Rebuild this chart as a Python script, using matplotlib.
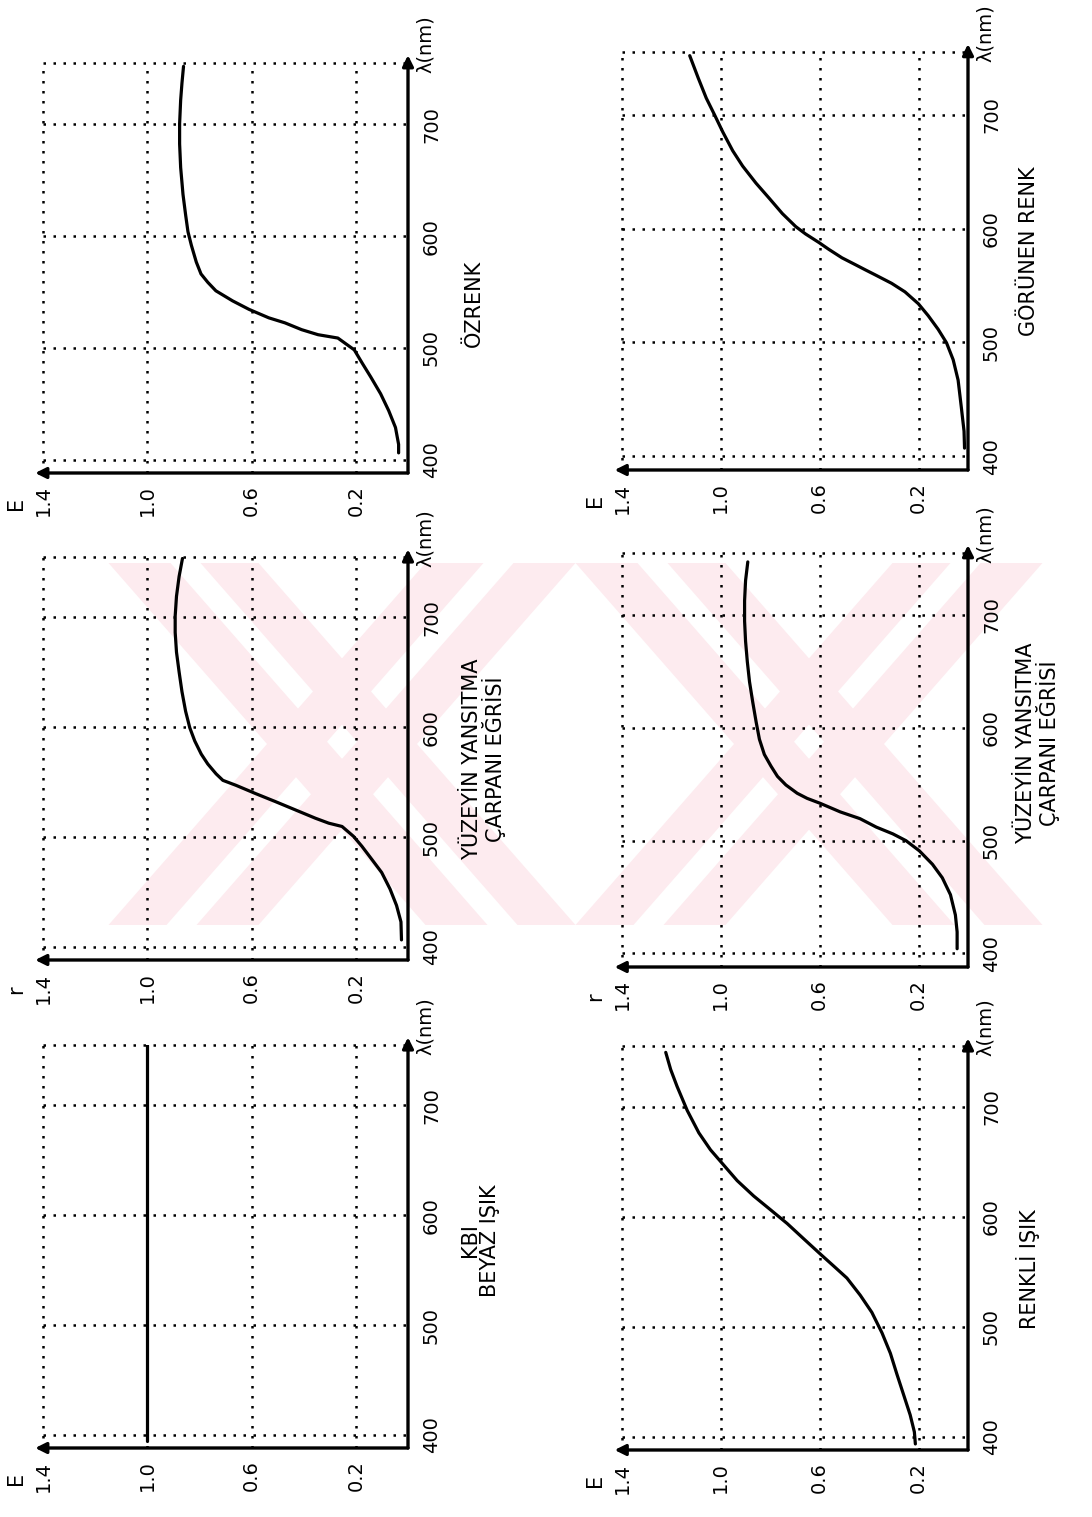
import matplotlib
matplotlib.use("Agg")
import matplotlib.pyplot as plt
from matplotlib.patches import Polygon

# wavelength (nm) / value pairs
wl_ozrenk = [406, 413.6, 428.7, 443.8, 458.9, 474, 486.1, 498.2, 508.8, 511.8, 516.3, 522.4,
             526.9, 534.5, 542.1, 551.1, 558.7, 566.2, 576.8, 591.9, 604, 619.1, 637.3, 661.4,
             682.6, 700.7, 721.8, 737, 752]
e_ozrenk = [0.036, 0.036, 0.048, 0.074, 0.105, 0.143, 0.175, 0.206, 0.269, 0.345, 0.408, 0.472,
            0.534, 0.610, 0.673, 0.737, 0.768, 0.794, 0.812, 0.831, 0.844, 0.853, 0.863, 0.872,
            0.876, 0.876, 0.872, 0.867, 0.861]

wl_yuzey1 = [406.3, 422.7, 437.7, 452.7, 467.7, 479.7, 491.6, 500.6, 509.6, 512.6, 517.1, 524.6,
             532.1, 539.5, 547.1, 551.6, 557.5, 566.5, 575.5, 587.5, 599.5, 614.5, 632.4, 650.4,
             668.4, 686.3, 701.3, 719.2, 737.2, 753.7]
r_yuzey1 = [0.025, 0.027, 0.044, 0.069, 0.101, 0.139, 0.177, 0.209, 0.253, 0.304, 0.355, 0.431,
            0.507, 0.584, 0.660, 0.710, 0.736, 0.768, 0.793, 0.818, 0.837, 0.853, 0.867, 0.878,
            0.888, 0.893, 0.893, 0.888, 0.878, 0.865]

wl_beyaz = [394, 755]
e_beyaz = [1.0, 1.0]

wl_gorunen = [407.2, 422.1, 443, 466.9, 484.8, 499.7, 511.6, 523.5, 534, 544.4, 551.9, 559.4,
              563.8, 568.3, 574.3, 581.7, 587.7, 595.2, 601.7, 613.1, 626.5, 639.9, 654.9, 668.3,
              684.7, 699.6, 714.5, 732.4, 751.8]
e_gorunen = [0.014, 0.016, 0.027, 0.040, 0.060, 0.087, 0.121, 0.161, 0.201, 0.255, 0.309, 0.376,
             0.416, 0.456, 0.510, 0.563, 0.603, 0.657, 0.697, 0.751, 0.804, 0.858, 0.912, 0.952,
             0.992, 1.025, 1.059, 1.092, 1.126]

wl_yuzey2 = [404.2, 419.1, 434.1, 452.1, 467.1, 479.1, 491, 500, 506, 512, 519.5, 525.5, 533,
             537.5, 542, 549.4, 557, 566, 576.4, 589.9, 604.9, 622.8, 640.8, 658.8, 676.7, 694.7,
             712.7, 730.6, 747.1]
r_yuzey2 = [0.044, 0.044, 0.051, 0.071, 0.104, 0.144, 0.197, 0.251, 0.304, 0.371, 0.437, 0.517,
            0.597, 0.651, 0.691, 0.737, 0.771, 0.797, 0.824, 0.844, 0.857, 0.871, 0.884, 0.893,
            0.900, 0.904, 0.904, 0.900, 0.891]

wl_renkli = [393.5, 404.4, 419.9, 438.5, 457.1, 475.8, 494.4, 513, 528.6, 544.2, 555, 565.9,
             579.9, 593.8, 606.2, 618.7, 632.7, 646.7, 660.7, 676.1, 696.4, 718.2, 733.6, 749.2]
e_renkli = [0.213, 0.217, 0.234, 0.261, 0.288, 0.314, 0.348, 0.389, 0.436, 0.490, 0.543, 0.597,
            0.665, 0.732, 0.799, 0.867, 0.934, 0.988, 1.042, 1.089, 1.136, 1.177, 1.203, 1.223]

wl_ticks = [400, 500, 600, 700]
val_ticks = [1.4, 1.0, 0.6, 0.2]
val_ticklabels = ["1.4", "1.0", "0.6", "0.2"]

titles = ["ÖZRENK", "YÜZEYİN YANSITMA\nÇARPANI EĞRİSİ", "KBI\nBEYAZ IŞIK",
          "GÖRÜNEN RENK", "YÜZEYİN YANSITMA\nÇARPANI EĞRİSİ", "RENKLİ IŞIK"]
ylabels = ["E", "r", "E", "E", "r", "E"]
series = [(wl_ozrenk, e_ozrenk), (wl_yuzey1, r_yuzey1), (wl_beyaz, e_beyaz),
          (wl_gorunen, e_gorunen), (wl_yuzey2, r_yuzey2), (wl_renkli, e_renkli)]

# layout: panel boxes in pixels (left, right, top, bottom) and caption centre (nm)
W, H = 1092, 1517
boxes = [(43, 408, 63, 473), (43, 408, 557, 960), (43, 408, 1045, 1448),
         (622, 968, 52, 470), (622, 968, 553, 967), (622, 968, 1046, 1450)]
title_wl = [540, 571, 577, 580, 586, 552]
title_pad = [56, 54, 52, 51, 48, 48]

num_font = ["Liberation Sans Narrow", "DejaVu Sans"]
txt_font = ["DejaVu Sans"]

fig = plt.figure(figsize=(W / 100, H / 100), dpi=100)

# faint pink watermark behind everything (two striped X marks)
bg = fig.add_axes([0, 0, 1, 1], zorder=-5)
bg.set_xlim(0, W)
bg.set_ylim(H, 0)
bg.axis("off")
pink = "#fdebef"
y0, y1, w = 563, 925, 467
stripes = [(0, 62), (92, 150)]   # sub-stripes across each arm, px
for cx in (342, 809):
    xl = cx - w / 2
    xr = cx + w / 2
    for a, b in stripes:
        down = [(xl + a, y0), (xl + b, y0), (xr - 150 + b, y1), (xr - 150 + a, y1)]
        up = [(xr - b, y0), (xr - a, y0), (xl + 150 - a, y1), (xl + 150 - b, y1)]
        for pts in (down, up):
            bg.add_patch(Polygon(pts, closed=True, facecolor=pink, edgecolor="none"))

dot = dict(color="black", lw=1.8, linestyle=(0, (1, 3)))
px2pt = 0.72

for i, (xs, ys) in enumerate(series):
    l, r, t_, b = boxes[i]
    ax = fig.add_axes([l / W, 1 - b / H, (r - l) / W, (b - t_) / H])
    ax.set_facecolor("none")
    ax.set_xlim(1.4, 0)
    ax.set_ylim(388, 755)
    for s in ax.spines.values():
        s.set_visible(False)

    # dotted grid and frame
    for v in val_ticks:
        ax.axvline(v, clip_on=False, **dot)
    for wl in wl_ticks:
        ax.axhline(wl, **dot)
    ax.axhline(755, clip_on=False, **dot)

    # axes with arrowheads
    ax.annotate("", xy=(0, 762), xytext=(0, 388), annotation_clip=False,
                arrowprops=dict(arrowstyle="-|>", lw=2.4, color="black", mutation_scale=16,
                                shrinkA=0, shrinkB=0))
    ax.annotate("", xy=(1.43, 388), xytext=(0, 388), annotation_clip=False,
                arrowprops=dict(arrowstyle="-|>", lw=2.4, color="black", mutation_scale=16,
                                shrinkA=0, shrinkB=0))

    ax.plot(ys, xs, color="black", lw=2.3, solid_joinstyle="round", solid_capstyle="round")

    ax.set_yticks(wl_ticks)
    ax.set_yticklabels([str(v) for v in wl_ticks])
    ax.set_xticks(val_ticks)
    ax.set_xticklabels(val_ticklabels)
    ax.tick_params(axis="y", left=False, labelleft=False, right=False, labelright=True,
                   length=0, pad=10)
    ax.tick_params(axis="x", bottom=False, length=0, pad=9)
    for lbl in ax.get_yticklabels():
        lbl.set_rotation(90)
        lbl.set_va("center")
        lbl.set_ha("left")
        lbl.set_family(num_font)
        lbl.set_fontsize(14)
    for lbl in ax.get_xticklabels():
        lbl.set_rotation(90)
        lbl.set_va("top")
        lbl.set_ha("center")
        lbl.set_family(num_font)
        lbl.set_fontsize(14)

    # wavelength label at the arrow tip
    ax.annotate("λ(nm)", xy=(0, 746), xytext=(17 * px2pt, 0), textcoords="offset points",
                rotation=90, ha="center", va="bottom", fontsize=14, family=txt_font,
                annotation_clip=False)
    # quantity letter
    ax.annotate(ylabels[i], xy=(0, 0), xycoords="axes fraction",
                xytext=(-27 * px2pt, -30 * px2pt), textcoords="offset points",
                rotation=90, ha="center", va="center", fontsize=15, family=txt_font,
                annotation_clip=False)
    # panel caption
    ax.annotate(titles[i], xy=(0, title_wl[i]), xytext=(title_pad[i] * px2pt, 0),
                textcoords="offset points", rotation=90, ha="left", va="center",
                multialignment="center", fontsize=15, family=txt_font, linespacing=1.0,
                annotation_clip=False)

fig.savefig("out.png", dpi=100, facecolor="white")
